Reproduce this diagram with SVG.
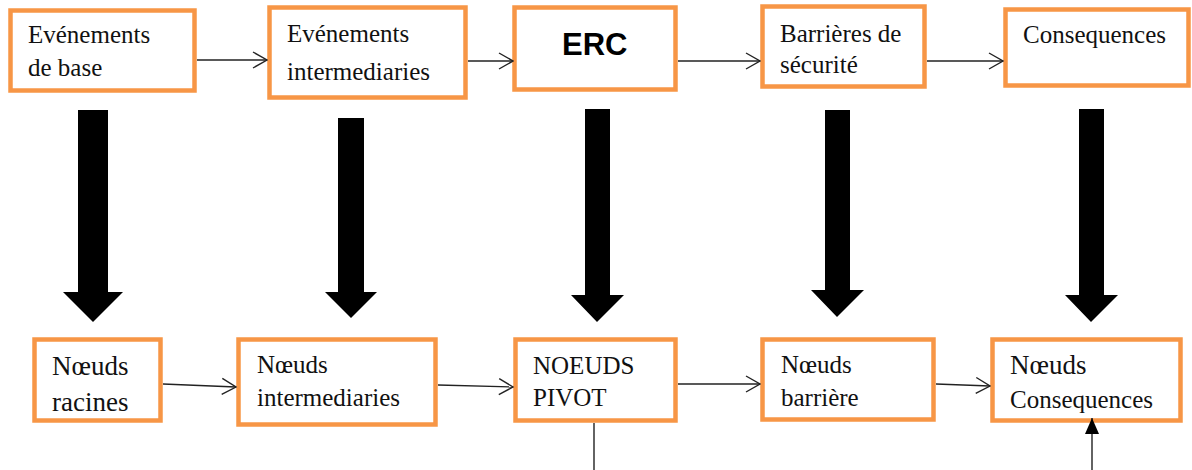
<svg xmlns="http://www.w3.org/2000/svg" width="1192" height="470" viewBox="0 0 1192 470">
  <defs>
    <style>
      .box { fill: #ffffff; stroke: #F79646; stroke-width: 4.5; }
      .lbl { font-family: "Liberation Serif", "Times New Roman", serif; font-size: 25px; fill: #111111; }
      .big { font-size: 27px; }
      .erc { font-family: "Liberation Sans", Arial, sans-serif; font-size: 31px; font-weight: bold; fill: #000000; }
      .link { fill: none; stroke: #222222; stroke-width: 1.4; }
      .thick { fill: #000000; }
    </style>
    <marker id="open" viewBox="0 0 16 18" refX="15" refY="9" markerWidth="16" markerHeight="18" markerUnits="userSpaceOnUse" orient="auto">
      <path d="M1,1 L15,9 L1,17" fill="none" stroke="#222222" stroke-width="1.4"/>
    </marker>
    <marker id="solid" viewBox="0 0 16 14" refX="16" refY="7" markerWidth="16" markerHeight="14" markerUnits="userSpaceOnUse" orient="auto">
      <path d="M0,0 L16,7 L0,14 Z" fill="#000000"/>
    </marker>
  </defs>

  <!-- upper row: event chain -->
  <g id="evenements-base">
    <rect class="box" x="10.5" y="10.5" width="184" height="80"/>
    <text class="lbl" x="28" y="43">Evénements</text>
    <text class="lbl" x="28" y="76">de base</text>
  </g>
  <g id="evenements-intermediaires">
    <rect class="box" x="269.5" y="7.5" width="196" height="90"/>
    <text class="lbl" x="287" y="42">Evénements</text>
    <text class="lbl" x="287" y="80">intermediaries</text>
  </g>
  <g id="erc">
    <rect class="box" x="514.5" y="7.5" width="161" height="82"/>
    <text class="erc" x="562" y="55">ERC</text>
  </g>
  <g id="barrieres">
    <rect class="box" x="762.5" y="6.5" width="162" height="80"/>
    <text class="lbl" x="780" y="42">Barrières de</text>
    <text class="lbl" x="780" y="73">sécurité</text>
  </g>
  <g id="consequences">
    <rect class="box" x="1005.5" y="9.5" width="183" height="76"/>
    <text class="lbl" x="1023" y="43">Consequences</text>
  </g>

  <!-- lower row: network nodes -->
  <g id="noeuds-racines">
    <rect class="box" x="34.5" y="339.5" width="126" height="81"/>
    <text class="lbl big" x="52" y="375">Nœuds</text>
    <text class="lbl big" x="52" y="411">racines</text>
  </g>
  <g id="noeuds-intermediaires">
    <rect class="box" x="238.5" y="339.5" width="197" height="85"/>
    <text class="lbl" x="257" y="373">Nœuds</text>
    <text class="lbl" x="257" y="406">intermediaries</text>
  </g>
  <g id="noeuds-pivot">
    <rect class="box" x="515.5" y="339.5" width="160" height="81"/>
    <text class="lbl" x="533" y="374">NOEUDS</text>
    <text class="lbl" x="533" y="406">PIVOT</text>
  </g>
  <g id="noeuds-barriere">
    <rect class="box" x="762.5" y="339.5" width="171" height="80"/>
    <text class="lbl" x="781" y="373">Nœuds</text>
    <text class="lbl" x="781" y="406">barrière</text>
  </g>
  <g id="noeuds-consequences">
    <rect class="box" x="992.5" y="339.5" width="188" height="81"/>
    <text class="lbl big" x="1010" y="374">Nœuds</text>
    <text class="lbl" x="1010" y="408">Consequences</text>
  </g>

  <!-- connectors -->
  <g id="connectors">
    <!-- upper row links -->
    <line class="link" x1="197" y1="60" x2="267" y2="60" marker-end="url(#open)"/>
    <line class="link" x1="468" y1="61" x2="513" y2="61" marker-end="url(#open)"/>
    <line class="link" x1="678" y1="61" x2="760" y2="61" marker-end="url(#open)"/>
    <line class="link" x1="927" y1="61" x2="1003" y2="61" marker-end="url(#open)"/>

    <!-- lower row links -->
    <line class="link" x1="163" y1="384" x2="236" y2="387" marker-end="url(#open)"/>
    <line class="link" x1="438" y1="385" x2="513" y2="387" marker-end="url(#open)"/>
    <line class="link" x1="678" y1="384" x2="760" y2="384" marker-end="url(#open)"/>
    <line class="link" x1="936" y1="384" x2="990" y2="386" marker-end="url(#open)"/>

    <!-- outgoing / incoming stubs at the bottom edge -->
    <line class="link" x1="594" y1="423" x2="594" y2="470"/>
    <line class="link" x1="1092" y1="470" x2="1092" y2="418" marker-end="url(#solid)"/>

    <!-- block arrows mapping events to nodes -->
    <polygon class="thick" points="78,110 108,110 108,292 123,292 93,322 63,292 78,292"/>
    <polygon class="thick" points="338,118 364,118 364,292 377,292 351,318 325,292 338,292"/>
    <polygon class="thick" points="585,109 610,109 610,295 624,295 597,322 571,295 585,295"/>
    <polygon class="thick" points="825,110 850,110 850,290 864,290 837,317 811,290 825,290"/>
    <polygon class="thick" points="1079,109 1104,109 1104,295 1118,295 1091,322 1065,295 1079,295"/>
  </g>
</svg>
